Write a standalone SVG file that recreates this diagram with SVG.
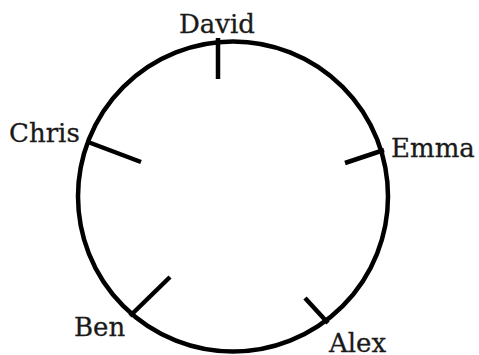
<svg xmlns="http://www.w3.org/2000/svg" width="479" height="355" viewBox="0 0 479 355">
<style>
.ring{fill:none;stroke:#000;stroke-width:4.5}
.tick{stroke:#000;stroke-width:4.5;stroke-linecap:butt}
.lbl{font-family:"DejaVu Serif","Liberation Serif",serif;font-size:26px;fill:#1a1a1a;stroke:#1a1a1a;stroke-width:0.3}
</style>
<rect width="479" height="355" fill="#fff"/>
<g id="table"><circle class="ring" cx="233" cy="196.5" r="155"/></g>
<g id="connectors">
<line class="tick" x1="218" y1="38" x2="218" y2="79"/>
<line class="tick" x1="88" y1="142" x2="141" y2="162"/>
<line class="tick" x1="384" y1="150" x2="345" y2="163"/>
<line class="tick" x1="130" y1="316" x2="170" y2="277"/>
<line class="tick" x1="328" y1="323" x2="305" y2="298"/>
</g>
<g id="david"><text class="lbl" x="179" y="33">David</text></g>
<g id="chris"><text class="lbl" x="9" y="142">Chris</text></g>
<g id="emma"><text class="lbl" x="391" y="157">Emma</text></g>
<g id="ben"><text class="lbl" x="74" y="336">Ben</text></g>
<g id="alex"><text class="lbl" x="329" y="352">Alex</text></g>
</svg>
